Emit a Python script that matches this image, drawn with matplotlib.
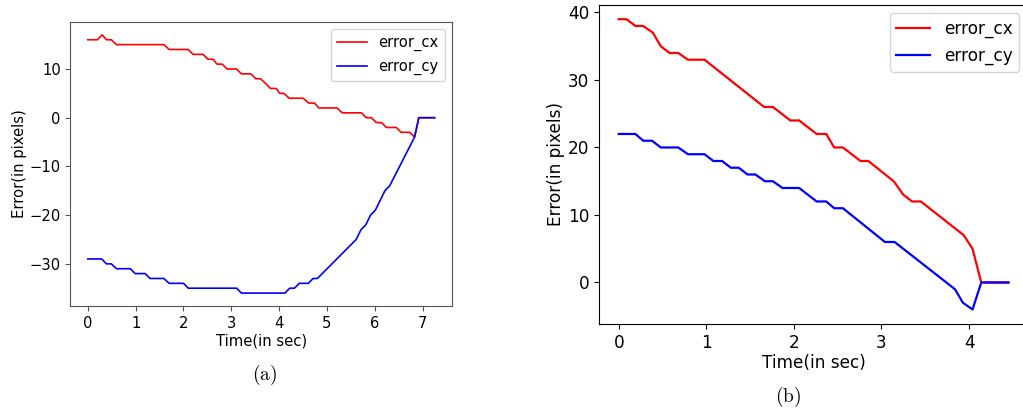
import matplotlib
matplotlib.use("Agg")
import matplotlib.pyplot as plt

# ---- data (corner points of the step-like traces) ----
# (a)
time_cx_a = [0, 0.20, 0.30, 0.39, 0.49, 0.60, 1.59, 1.70, 2.10, 2.20, 2.41, 2.51, 2.62,
             2.70, 2.81, 2.91, 3.11, 3.21, 3.41, 3.51, 3.61, 3.72, 3.82, 3.94, 4.01,
             4.10, 4.21, 4.50, 4.62, 4.74, 4.83, 5.21, 5.32, 5.72, 5.82, 5.93, 6.03,
             6.14, 6.24, 6.45, 6.55, 6.73, 6.83, 6.92, 7.25]
error_cx_a = [16, 16, 17, 16, 16, 15, 15, 14, 14, 13, 13, 12, 12,
              11, 11, 10, 10, 9, 9, 8, 8, 7, 6, 6, 5,
              5, 4, 4, 3, 3, 2, 2, 1, 1, 0, 0, -1,
              -1, -2, -2, -3, -3, -4, 0, 0]

time_cy_a = [0, 0.29, 0.39, 0.49, 0.60, 0.89, 0.99, 1.20, 1.30, 1.59, 1.70, 2.00, 2.10,
             3.11, 3.21, 4.12, 4.22, 4.32, 4.42, 4.61, 4.71, 4.80, 5.61, 5.71, 5.81,
             5.91, 6.01, 6.11, 6.21, 6.31, 6.83, 6.92, 7.25]
error_cy_a = [-29, -29, -30, -30, -31, -31, -32, -32, -33, -33, -34, -34, -35,
              -35, -36, -36, -35, -35, -34, -34, -33, -33, -25, -23, -22,
              -20, -19, -17, -15, -14, -4, 0, 0]

# (b)
time_cx_b = [0, 0.09, 0.19, 0.28, 0.39, 0.48, 0.58, 0.68, 0.79, 0.98, 1.66, 1.76,
             1.96, 2.06, 2.26, 2.37, 2.46, 2.56, 2.76, 2.85, 3.14, 3.25, 3.35, 3.45,
             3.94, 4.04, 4.14, 4.45]
error_cx_b = [39, 39, 38, 38, 37, 35, 34, 34, 33, 33, 26, 26,
              24, 24, 22, 22, 20, 20, 18, 18, 15, 13, 12, 12,
              7, 5, 0, 0]

time_cy_b = [0, 0.19, 0.28, 0.38, 0.48, 0.68, 0.79, 0.98, 1.08, 1.18, 1.28, 1.37,
             1.47, 1.56, 1.67, 1.76, 1.87, 2.06, 2.26, 2.37, 2.46, 2.56, 3.04, 3.15,
             3.84, 3.93, 4.04, 4.14, 4.45]
error_cy_b = [22, 22, 21, 21, 20, 20, 19, 19, 18, 18, 17, 17,
              16, 16, 15, 15, 14, 14, 12, 12, 11, 11, 6, 6,
              -1, -3, -4, 0, 0]

plt.rcParams['mathtext.fontset'] = 'cm'

fs_a = 10.6
fs_b = 12.2

fig = plt.figure(figsize=(10.23, 4.13), dpi=100)

# ---- panel (a) ----
ax1 = fig.add_axes([0.0689, 0.2591, 0.3729, 0.6877])
ax1.plot(time_cx_a, error_cx_a, color='red', lw=1.2, label='error_cx')
ax1.plot(time_cy_a, error_cy_a, color='blue', lw=1.2, label='error_cy')
ax1.set_xticks(range(0, 8))
ax1.set_yticks([-30, -20, -10, 0, 10])
ax1.set_yticklabels(['\u221230', '\u221220', '\u221210', '0', '10'])
ax1.tick_params(labelsize=fs_a, color='#555555', width=0.8)
for s in ax1.spines.values():
    s.set_color('#555555')
ax1.set_xlabel('Time(in sec)', fontsize=fs_a, labelpad=2)
ax1.set_ylabel('Error(in pixels)', fontsize=fs_a, labelpad=1.5)
ax1.legend(loc='upper right', fontsize=fs_a)

# ---- panel (b) ----
ax2 = fig.add_axes([0.5858, 0.2155, 0.419, 0.7731])
ax2.plot(time_cx_b, error_cx_b, color='red', lw=1.6, label='error_cx')
ax2.plot(time_cy_b, error_cy_b, color='blue', lw=1.6, label='error_cy')
ax2.set_xticks(range(0, 5))
ax2.set_yticks([0, 10, 20, 30, 40])
ax2.tick_params(labelsize=fs_b)
ax2.set_xlabel('Time(in sec)', fontsize=fs_b, labelpad=2)
ax2.set_ylabel('Error(in pixels)', fontsize=fs_b, labelpad=2.5)
ax2.legend(loc='upper right', fontsize=fs_b)

# captions
fig.text(265 / 1023, 1 - 375 / 413, r'$\mathrm{(a)}$', ha='center', va='center', fontsize=14)
fig.text(788 / 1023, 1 - 397 / 413, r'$\mathrm{(b)}$', ha='center', va='center', fontsize=14)

fig.savefig('out.png', dpi=100)
